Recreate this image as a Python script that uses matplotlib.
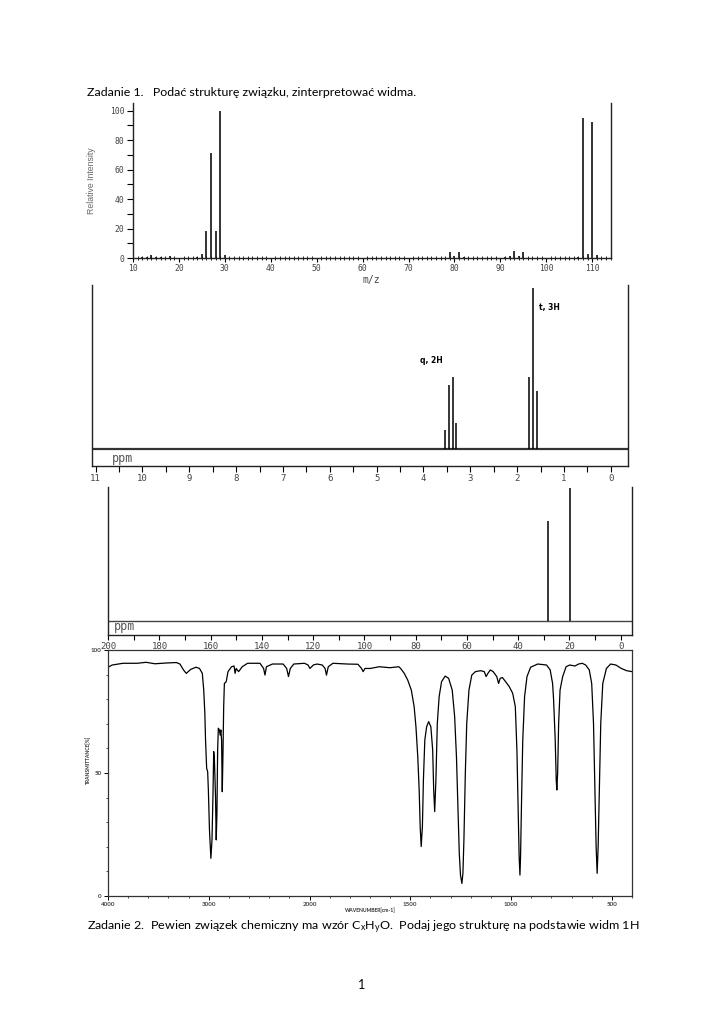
import numpy as np
import matplotlib
matplotlib.use("Agg")
import matplotlib.pyplot as plt
from matplotlib.ticker import MultipleLocator, FixedLocator
from matplotlib import font_manager

plt.rcParams['font.family'] = ['Lato', 'DejaVu Sans']
plt.rcParams['mathtext.fontset'] = 'custom'
plt.rcParams['mathtext.rm'] = 'Lato'
plt.rcParams['mathtext.it'] = 'Lato:italic'

# ---------------- data ----------------
title_text = "Zadanie 1.   Podać strukturę związku, zinterpretować widma."
footer_text = r"Zadanie 2.  Pewien związek chemiczny ma wzór C$_\mathrm{x}$H$_\mathrm{y}$O.  Podaj jego strukturę na podstawie widm 1H"
page_number = "1"

# mass spectrum
ms_mz = [12, 13, 14, 15, 16, 18, 24, 25, 26, 27, 28, 29, 30,
         79, 80, 81, 82, 91, 92, 93, 94, 95, 107, 108, 109, 110, 111]
ms_intensity = [0.5, 0.8, 2, 1, 0.5, 1.5, 1, 3, 18, 71, 18, 100, 2,
                4, 1.5, 4, 1, 1, 1.5, 5, 1.5, 4, 1, 95, 3, 92, 2]
ms_xticks = [10, 20, 30, 40, 50, 60, 70, 80, 90, 100, 110]
ms_yticks = [0, 20, 40, 60, 80, 100]

# 1H NMR
h_ppm = [3.54, 3.45, 3.37, 3.30, 1.745, 1.655, 1.58]
h_height = [12, 40, 44.5, 16, 45, 100, 36]
h_labels = ["q, 2H", "t, 3H"]
h_xticks = list(range(0, 12))

# 13C NMR
c_ppm = [28.3, 19.8]
c_height = [74.6, 100]
c_xticks = list(range(0, 201, 20))

# IR spectrum
ir_wavenumber = [4000, 3958, 3852, 3710, 3622, 3534, 3428, 3322, 3286, 3251, 3223, 3180, 3127,
                 3092, 3064, 3050, 3039, 3032, 3021, 3011, 3004, 2993, 2979, 2968, 2958, 2951,
                 2944, 2933, 2926, 2919, 2912, 2905, 2894, 2887, 2880, 2873, 2866, 2859, 2852,
                 2845, 2827, 2809, 2774, 2749, 2739, 2728, 2704, 2668, 2615, 2492, 2456, 2442,
                 2428, 2368, 2262, 2227, 2209, 2191, 2156, 2050, 2015, 1998, 1981, 1963, 1937,
                 1923, 1916, 1907, 1884, 1813, 1760, 1742, 1734, 1725, 1698, 1654, 1601, 1557,
                 1548, 1530, 1513, 1495, 1481, 1472, 1463, 1456, 1451, 1446, 1440, 1435, 1428,
                 1419, 1409, 1398, 1389, 1384, 1379, 1373, 1366, 1357, 1345, 1327, 1310, 1292,
                 1280, 1271, 1264, 1257, 1251, 1244, 1239, 1234, 1227, 1220, 1209, 1195, 1177,
                 1151, 1133, 1124, 1115, 1103, 1089, 1071, 1062, 1054, 1043, 1027, 1009, 992,
                 979, 971, 965, 960, 956, 953, 948, 942, 933, 921, 903, 868, 824, 806, 794, 789,
                 781, 776, 773, 769, 764, 757, 744, 727, 709, 683, 665, 647, 630, 612, 600, 591,
                 584, 578, 573, 568, 562, 555, 545, 527, 506, 480, 453, 427, 400]
ir_transmittance = [93.0, 93.9, 94.6, 94.6, 95.0, 94.4, 94.7, 94.9, 94.3, 91.9, 90.5, 92.1, 93.0,
                    92.5, 90.5, 83.7, 74.3, 63.4, 51.9, 50.5, 43.1, 26.8, 15.3, 22.8, 41.7, 58.7,
                    55.3, 40.4, 22.8, 33.6, 59.3, 68.2, 67.5, 65.4, 67.5, 63.4, 42.4, 58.0, 77.0,
                    86.4, 87.1, 91.2, 93.2, 93.5, 90.5, 92.5, 91.2, 93.2, 94.6, 94.6, 92.5, 89.8,
                    93.2, 94.3, 94.3, 92.5, 89.2, 92.5, 94.3, 94.6, 93.9, 92.5, 93.9, 94.3, 93.9,
                    92.5, 89.8, 93.2, 94.6, 94.3, 94.2, 92.5, 91.2, 92.5, 92.5, 93.2, 92.8, 93.2,
                    92.5, 90.5, 87.8, 83.7, 77.0, 68.8, 56.6, 43.1, 28.2, 20.1, 28.2, 47.2, 63.4,
                    68.8, 70.9, 68.8, 59.3, 43.1, 34.3, 47.2, 70.2, 81.0, 87.1, 89.4, 88.5, 83.7,
                    72.9, 56.6, 36.3, 17.3, 8.5, 5.1, 9.2, 22.8, 49.9, 70.2, 83.7, 89.8, 91.2,
                    91.6, 91.2, 89.2, 90.5, 91.9, 91.2, 89.2, 86.4, 88.5, 88.8, 87.1, 85.1, 82.4,
                    77.0, 59.3, 36.3, 16.0, 8.5, 16.0, 39.0, 63.4, 81.0, 89.2, 93.0, 94.3, 93.9,
                    91.9, 86.4, 79.7, 63.4, 47.2, 43.1, 49.9, 70.2, 83.7, 89.2, 93.2, 93.9, 93.5,
                    94.3, 94.6, 93.9, 91.9, 86.4, 70.2, 43.1, 20.1, 9.2, 20.1, 43.1, 70.2, 86.4,
                    92.5, 94.3, 93.9, 92.5, 91.6, 91.2]
ir_xticks = [4000, 3000, 2000, 1500, 1000, 500]
ir_yticks = [0, 50, 100]

# ---------------- figure ----------------
W, H = 724, 1024
fig = plt.figure(figsize=(W / 100, H / 100), dpi=100)
fig.patch.set_facecolor('white')


def add_ax(l, t, r, b):
    return fig.add_axes([l / W, 1 - b / H, (r - l) / W, (b - t) / H])


def fx(x):
    return x / W


def fy(y):
    return 1 - y / H


mono = ['DejaVu Sans Mono']
tick_col = '#444444'

installed = {f.name for f in font_manager.fontManager.ttflist}
if 'Liberation Sans Narrow' in installed:
    ylab_family, ylab_size = ['Liberation Sans Narrow'], 7.0
else:
    ylab_family, ylab_size = ['Liberation Sans'], 6.3

# title and footer
fig.text(fx(87), fy(93), title_text, fontsize=8.95, ha='left', va='center', color='black')
fig.text(fx(87), fy(927), footer_text, fontsize=8.98, ha='left', va='center', color='black')
fig.text(fx(362), fy(985), page_number, fontsize=9.0, ha='center', va='center', color='black')

# ---------------- mass spectrum ----------------
ax = add_ax(133, 103, 611, 258)
ax.vlines(ms_mz, 0, ms_intensity, colors='#111111', lw=1.2)
ax.set_xlim(10, 114.1)
ax.set_ylim(0, 105.2)
ax.spines['top'].set_visible(False)
for s in ['left', 'right', 'bottom']:
    ax.spines[s].set_linewidth(1.0)
    ax.spines[s].set_color('#222222')
ax.set_xticks(ms_xticks, [str(v) for v in ms_xticks], fontfamily=mono, fontsize=5.8, color=tick_col)
ax.set_yticks(ms_yticks, [str(v) for v in ms_yticks], fontfamily=mono, fontsize=5.8, color=tick_col)
ax.xaxis.set_minor_locator(MultipleLocator(1))
ax.yaxis.set_minor_locator(MultipleLocator(10))
ax.tick_params(axis='x', which='major', direction='out', length=3, width=0.8, pad=1.0)
ax.tick_params(axis='x', which='minor', direction='inout', length=3, width=0.6)
ax.tick_params(axis='y', which='both', direction='out', length=4, width=0.8, pad=2)
fig.text(fx(91), fy(181), 'Relative Intensity', rotation=90, fontsize=ylab_size, ha='center', va='center',
         color='#666666', family=ylab_family)
fig.text(fx(371), fy(280), 'm/z', fontsize=7, ha='center', va='center', color='#444444', family=mono)

# ---------------- 1H NMR ----------------
ax2 = add_ax(92.3, 285, 627.7, 466)
ax2.set_xlim(11.07, -0.36)
ax2.set_ylim(-10.56, 101.9)
ax2.axhline(0, color='#333333', lw=1.6)
ax2.vlines(h_ppm, 0, h_height, colors='black', lw=1.1)
ax2.spines['top'].set_visible(False)
for s in ['left', 'right', 'bottom']:
    ax2.spines[s].set_linewidth(1.0)
    ax2.spines[s].set_color('#222222')
ax2.set_yticks([])
ax2.set_xticks(h_xticks, [str(v) for v in h_xticks], fontfamily=mono, fontsize=6.5, color=tick_col)
ax2.xaxis.set_minor_locator(MultipleLocator(0.5))
ax2.tick_params(axis='x', which='both', direction='out', length=4, width=0.8, pad=1.5)
ax2.text(0.037, 0.04, 'ppm', transform=ax2.transAxes, fontsize=8.5, color='#555555',
         ha='left', va='center', family=mono)
ax2.text(3.84, 54.7, h_labels[0], fontsize=5.5, fontweight='bold', ha='center', va='center',
         family=['DejaVu Sans'])
ax2.text(1.31, 88.2, h_labels[1], fontsize=5.5, fontweight='bold', ha='center', va='center',
         family=['DejaVu Sans'])

# ---------------- 13C NMR ----------------
ax3 = add_ax(107.7, 487, 632, 635)
ax3.set_xlim(200.2, -4.4)
ax3.set_ylim(-10.9, 100.4)
ax3.axhline(0, color='#444444', lw=1.0)
ax3.vlines(c_ppm, 0, c_height, colors='black', lw=1.1)
ax3.spines['top'].set_visible(False)
for s in ['left', 'right', 'bottom']:
    ax3.spines[s].set_linewidth(1.0)
    ax3.spines[s].set_color('#222222')
ax3.set_yticks([])
ax3.set_xticks(c_xticks[::-1], [str(v) for v in c_xticks[::-1]], fontfamily=mono, fontsize=6.5, color=tick_col)
ax3.xaxis.set_minor_locator(MultipleLocator(10))
ax3.tick_params(axis='x', which='both', direction='out', length=3.5, width=0.8, pad=1.5)
ax3.text(0.012, 0.06, 'ppm', transform=ax3.transAxes, fontsize=8.5, color='#555555',
         ha='left', va='center', family=mono)

# ---------------- IR ----------------
# piecewise-linear wavenumber scale (expanded x2 below 2000 cm-1), increasing with wavenumber
def ir_fwd(w):
    w = np.asarray(w, dtype=float)
    return np.where(w >= 2000, (w - 4000) / 1000.0, -2 - (2000 - w) / 500.0)


def ir_inv(v):
    v = np.asarray(v, dtype=float)
    return np.where(v >= -2, 4000 + 1000.0 * v, 2000 + 500.0 * (v + 2))


ax4 = add_ax(108, 650, 632, 896)
ax4.set_xscale('function', functions=(ir_fwd, ir_inv))
ax4.plot(ir_wavenumber, ir_transmittance, color='black', lw=0.9)
ax4.set_xlim(4000, 400)
ax4.set_ylim(0, 100)
for s in ax4.spines.values():
    s.set_linewidth(0.9)
    s.set_color('#333333')
ax4.set_xticks(ir_xticks, [str(v) for v in ir_xticks], fontsize=4.5, fontweight='bold', color=tick_col)
ax4.set_yticks(ir_yticks, [str(v) for v in ir_yticks], fontsize=4.5, fontweight='bold', color=tick_col)
minor_wn = [3800, 3600, 3400, 3200, 2800, 2600, 2400, 2200, 1900, 1800, 1700, 1600,
            1400, 1300, 1200, 1100, 900, 800, 700, 600, 400]
ax4.xaxis.set_minor_locator(FixedLocator(minor_wn))
ax4.yaxis.set_minor_locator(FixedLocator([10, 20, 30, 40, 60, 70, 80, 90]))
ax4.tick_params(axis='both', which='major', direction='out', length=3, width=0.7, pad=1.5)
ax4.tick_params(axis='both', which='minor', direction='out', length=1.5, width=0.5)
fig.text(fx(370), fy(910), 'WAVENUMBER[cm-1]', fontsize=3.6, fontweight='bold', ha='center',
         va='center', color='#333333')
fig.text(fx(88), fy(760), 'TRANSMITTANCE[%]', fontsize=3.6, fontweight='bold', rotation=90,
         ha='center', va='center', color='#333333')

fig.savefig('out.png', dpi=100, facecolor='white')
